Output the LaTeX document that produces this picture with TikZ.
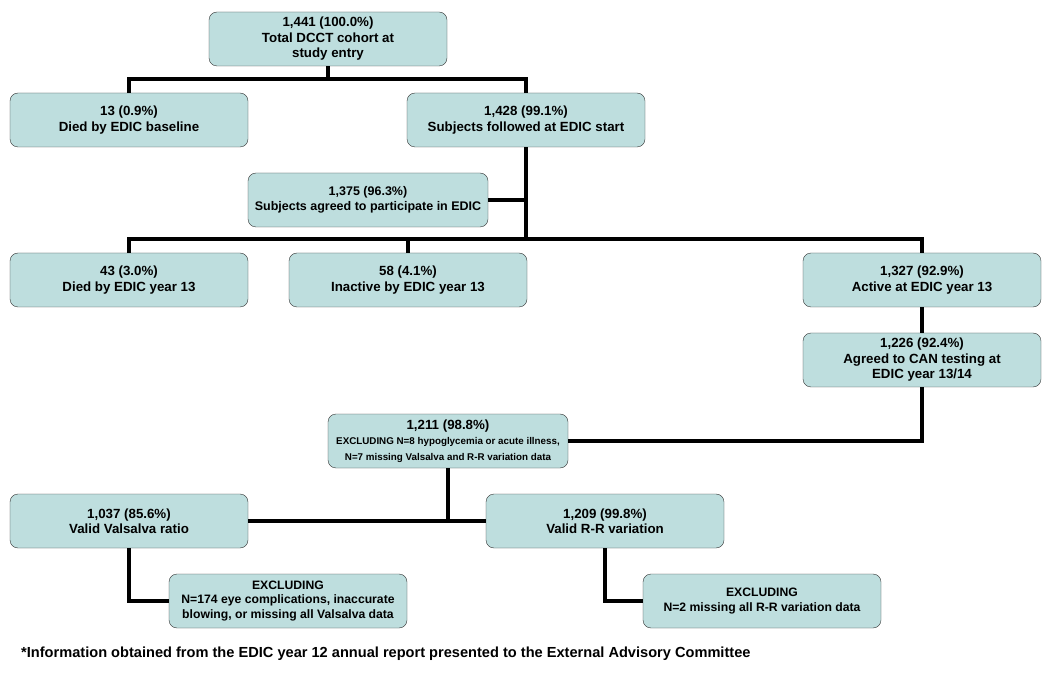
\documentclass[tikz,border=0pt]{standalone}
\usepackage{fontspec}
\setmainfont{Liberation Sans}
\usetikzlibrary{shapes,arrows}
\definecolor{boxfill}{RGB}{190,222,222}

\begin{document}
\begin{tikzpicture}[x=1pt,y=-1pt,
  box/.style={draw=black!80, fill=boxfill, rounded corners=8pt, align=center, font=\fontsize{13.3}{15.5}\selectfont\bfseries, minimum width=238pt, minimum height=54pt, inner sep=1pt},
  small/.style={font=\fontsize{12.2}{14.5}\selectfont\bfseries},
  link/.style={line width=3.2pt}
  ]
  \useasboundingbox (0,0) rectangle (1050,676);

  \node[box] (total) at (328,39) {1,441 (100.0\%)\\ Total DCCT cohort at\\ study entry};
  \node[box] (diedbase) at (129,120) {13 (0.9\%)\\ Died by EDIC baseline};
  \node[box] (followed) at (526,120) {1,428 (99.1\%)\\ Subjects followed at EDIC start};
  \node[box,minimum width=240pt,font=\fontsize{12.5}{15}\selectfont\bfseries] (agreed) at (368,200) {1,375 (96.3\%)\\ Subjects agreed to participate in EDIC};

  \node[box] (died13) at (129,280) {43 (3.0\%)\\ Died by EDIC year 13};
  \node[box] (inactive) at (408,280) {58 (4.1\%)\\ Inactive by EDIC year 13};
  \node[box] (active) at (922,280) {1,327 (92.9\%)\\ Active at EDIC year 13};
  \node[box] (can) at (922,360) {1,226 (92.4\%)\\ Agreed to CAN testing at\\ EDIC year 13/14};

  \node[box,minimum width=240pt] (valid) at (448,441) {1,211 (98.8\%)\\ {\fontsize{9.8}{12}\selectfont EXCLUDING N=8 hypoglycemia or acute illness,}\\ {\fontsize{9.8}{12}\selectfont N=7 missing Valsalva and R-R variation data}};

  \node[box] (valsalva) at (129,521) {1,037 (85.6\%)\\ Valid Valsalva ratio};
  \node[box] (rr) at (605,521) {1,209 (99.8\%)\\ Valid R-R variation};
  \node[box,small] (exclval) at (288,601) {EXCLUDING\\ N=174 eye complications, inaccurate\\ blowing, or missing all Valsalva data};
  \node[box,small] (exclrr) at (762,601) {EXCLUDING\\ N=2 missing all R-R variation data};

  \node[anchor=west,inner sep=0pt,font=\fontsize{14.6}{17}\selectfont\bfseries] (note) at (21,654) {*Information obtained from the EDIC year 12 annual report presented to the External Advisory Committee};

  % connectors
  \coordinate (split1) at (328,79);
  \coordinate (split2) at (526,239);
  \draw[link] (total) -- (split1);
  \draw[link] (diedbase.north) |- (split1) -| (followed.north);
  \draw[link] (followed.south) -- (split2);
  \draw[link] (agreed.east) -- (agreed.east -| followed.south);
  \draw[link] (died13.north) |- (split2) -| (active.north);
  \draw[link] (inactive.north) -- (inactive.north |- split2);
  \draw[link] (active) -- (can);
  \draw[link] (can.south) |- (valid.east);
  \draw[link] (valid.south) -- (valid.south |- valsalva.east);
  \draw[link] (valsalva.east) -- (rr.west);
  \draw[link] (valsalva.south) |- (exclval.west);
  \draw[link] (rr.south) |- (exclrr.west);

\end{tikzpicture}
\end{document}
